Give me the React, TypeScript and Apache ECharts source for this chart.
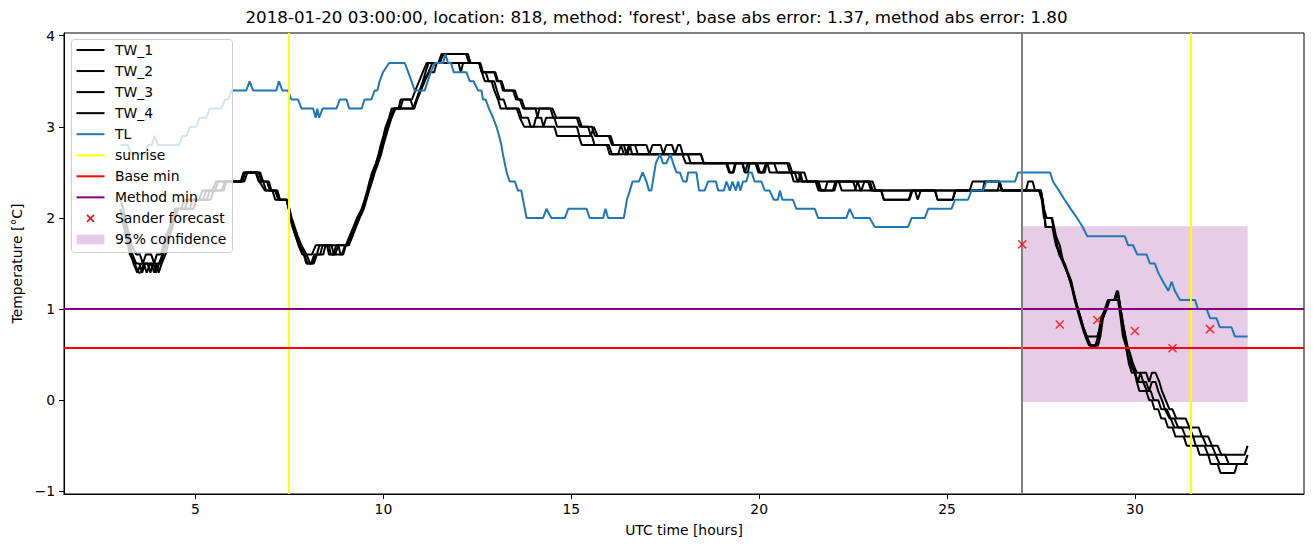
import React, { useEffect, useRef } from "react";
import * as echarts from "echarts";

const TITLE =
  "2018-01-20 03:00:00, location: 818, method: 'forest', base abs error: 1.37, method abs error: 1.80";
const X_NAME = "UTC time [hours]";
const Y_NAME = "Temperature [°C]";
const X_TICKS = [5, 10, 15, 20, 25, 30];
const Y_TICKS = [-1, 0, 1, 2, 3, 4];
const X_RANGE = [1.5, 34.5];
const Y_RANGE = [-1.03, 4.03];

// [hour, temperature] vertices
const TW_1: [number, number][] = [
  [3.0, 2.2], [3.08, 2.1], [3.18, 1.9], [3.3, 1.7], [3.42, 1.6], [3.52, 1.6], [3.6, 1.5], [3.68, 1.6], [3.82, 1.6], [3.9, 1.5], [3.97, 1.6], [4.08, 1.6], [4.2, 1.8], [4.32, 1.9], [4.45, 2.1], [4.72, 2.1], [4.8, 2.2], [5.1, 2.2], [5.18, 2.3], [5.45, 2.3], [5.55, 2.4], [6.2, 2.4], [6.28, 2.5], [6.72, 2.5], [6.8, 2.4], [6.88, 2.3], [7.05, 2.3], [7.12, 2.2], [7.42, 2.2], [7.48, 2.1], [7.54, 2.0], [7.6, 1.9], [7.67, 1.8], [7.74, 1.7], [7.84, 1.6], [8.1, 1.6], [8.2, 1.7], [8.55, 1.7], [8.6, 1.6], [8.68, 1.6], [8.74, 1.7], [9.0, 1.7], [9.1, 1.8], [9.2, 1.9], [9.3, 2.0], [9.42, 2.1], [9.5, 2.2], [9.57, 2.3], [9.63, 2.4], [9.7, 2.5], [9.8, 2.6], [9.87, 2.7], [9.93, 2.8], [10.0, 2.9], [10.06, 3.0], [10.15, 3.1], [10.22, 3.2], [10.4, 3.2], [10.46, 3.3], [10.76, 3.3], [10.85, 3.4], [10.95, 3.5], [11.05, 3.6], [11.15, 3.7], [11.46, 3.7], [11.55, 3.8], [12.2, 3.8], [12.28, 3.7], [12.55, 3.7], [12.62, 3.6], [12.95, 3.6], [13.02, 3.5], [13.12, 3.5], [13.18, 3.4], [13.45, 3.4], [13.53, 3.3], [13.63, 3.3], [13.72, 3.2], [14.5, 3.2], [14.6, 3.1], [15.2, 3.1], [15.28, 3.0], [15.55, 3.0], [15.63, 2.9], [16.0, 2.9], [16.08, 2.8], [17.0, 2.8], [17.08, 2.7], [17.16, 2.8], [17.38, 2.8], [17.45, 2.7], [17.53, 2.8], [17.68, 2.8], [17.76, 2.7], [17.84, 2.8], [17.9, 2.8], [17.97, 2.7], [18.45, 2.7], [18.53, 2.6], [19.15, 2.6], [19.22, 2.5], [19.3, 2.5], [19.36, 2.6], [20.8, 2.6], [20.88, 2.5], [21.05, 2.5], [21.13, 2.4], [23.02, 2.4], [23.1, 2.3], [25.6, 2.3], [25.68, 2.4], [26.38, 2.4], [26.46, 2.3], [27.1, 2.3], [27.16, 2.4], [27.28, 2.4], [27.34, 2.3], [27.5, 2.3], [27.57, 2.1], [27.63, 1.9], [27.8, 1.9], [27.9, 1.7], [28.0, 1.6], [28.13, 1.5], [28.22, 1.4], [28.31, 1.3], [28.36, 1.2], [28.42, 1.1], [28.49, 1.0], [28.56, 0.9], [28.63, 0.8], [28.72, 0.7], [29.0, 0.7], [29.08, 0.8], [29.15, 0.9], [29.22, 1.0], [29.3, 1.1], [29.45, 1.1], [29.53, 1.2], [29.62, 1.0], [29.7, 0.8], [29.8, 0.6], [29.88, 0.5], [29.95, 0.4], [30.05, 0.3], [30.3, 0.3], [30.38, 0.2], [30.45, 0.3], [30.55, 0.3], [30.65, 0.2], [30.72, 0.1], [30.82, 0.0], [30.92, -0.1], [31.0, -0.1], [31.1, -0.2], [31.35, -0.2], [31.45, -0.3], [31.7, -0.3], [31.78, -0.4], [31.95, -0.4], [32.05, -0.5], [32.2, -0.5], [32.3, -0.6], [32.92, -0.6], [33.0, -0.5],
];

const TW_2: [number, number][] = [
  [3.0, 2.1], [3.1, 2.0], [3.2, 1.8], [3.32, 1.6], [3.42, 1.5], [3.5, 1.5], [3.58, 1.4], [3.66, 1.5], [3.82, 1.5], [3.9, 1.4], [3.97, 1.5], [4.08, 1.5], [4.2, 1.7], [4.35, 1.9], [4.5, 2.1], [4.62, 2.1], [4.7, 2.2], [5.2, 2.2], [5.28, 2.3], [5.7, 2.3], [5.78, 2.4], [6.22, 2.4], [6.3, 2.5], [6.68, 2.5], [6.76, 2.4], [6.9, 2.4], [6.98, 2.3], [7.12, 2.3], [7.2, 2.2], [7.42, 2.2], [7.48, 2.1], [7.55, 2.0], [7.62, 1.9], [7.7, 1.8], [7.8, 1.7], [7.9, 1.6], [7.98, 1.5], [8.15, 1.5], [8.23, 1.6], [8.3, 1.7], [8.5, 1.7], [8.55, 1.6], [8.72, 1.6], [8.8, 1.7], [9.02, 1.7], [9.12, 1.8], [9.22, 1.9], [9.32, 2.0], [9.45, 2.1], [9.52, 2.2], [9.6, 2.3], [9.66, 2.4], [9.72, 2.5], [9.82, 2.6], [9.9, 2.7], [9.96, 2.8], [10.03, 2.9], [10.1, 3.0], [10.18, 3.1], [10.28, 3.2], [10.8, 3.2], [10.88, 3.3], [10.97, 3.4], [11.05, 3.5], [11.12, 3.6], [11.2, 3.7], [11.5, 3.7], [11.6, 3.8], [12.25, 3.8], [12.32, 3.7], [12.58, 3.7], [12.65, 3.6], [12.98, 3.6], [13.05, 3.5], [13.15, 3.5], [13.22, 3.4], [13.5, 3.4], [13.58, 3.3], [13.68, 3.3], [13.76, 3.2], [14.05, 3.2], [14.1, 3.1], [14.15, 3.2], [14.45, 3.2], [14.52, 3.1], [15.15, 3.1], [15.22, 3.0], [15.45, 3.0], [15.52, 2.9], [15.6, 3.0], [15.7, 2.9], [16.05, 2.9], [16.12, 2.8], [16.4, 2.8], [16.47, 2.7], [16.53, 2.8], [16.7, 2.8], [16.77, 2.7], [17.95, 2.7], [18.05, 2.6], [19.55, 2.6], [19.62, 2.5], [19.7, 2.5], [19.75, 2.6], [19.95, 2.6], [20.02, 2.5], [20.15, 2.5], [20.2, 2.6], [20.75, 2.6], [20.82, 2.5], [21.2, 2.5], [21.28, 2.4], [21.5, 2.4], [21.58, 2.3], [21.96, 2.3], [22.03, 2.4], [22.9, 2.4], [22.98, 2.3], [26.35, 2.3], [26.4, 2.4], [26.46, 2.3], [27.45, 2.3], [27.52, 2.2], [27.58, 2.0], [27.78, 2.0], [27.88, 1.8], [27.98, 1.6], [28.1, 1.5], [28.2, 1.4], [28.28, 1.3], [28.34, 1.2], [28.4, 1.1], [28.46, 1.0], [28.53, 0.9], [28.6, 0.8], [28.68, 0.7], [28.78, 0.6], [28.95, 0.6], [29.02, 0.7], [29.1, 0.9], [29.2, 1.0], [29.28, 1.1], [29.45, 1.1], [29.52, 1.2], [29.58, 1.1], [29.65, 0.9], [29.72, 0.7], [29.8, 0.5], [29.88, 0.4], [30.0, 0.3], [30.08, 0.2], [30.3, 0.2], [30.38, 0.1], [30.45, 0.2], [30.55, 0.2], [30.62, 0.1], [30.72, 0.0], [30.8, -0.1], [30.92, -0.2], [31.05, -0.2], [31.15, -0.3], [31.45, -0.3], [31.55, -0.4], [31.8, -0.4], [31.9, -0.5], [32.05, -0.5], [32.15, -0.6], [32.4, -0.6], [32.5, -0.7], [33.0, -0.7],
];

const TW_3: [number, number][] = [
  [3.0, 2.1], [3.1, 1.9], [3.22, 1.7], [3.35, 1.5], [3.45, 1.4], [3.55, 1.5], [3.62, 1.5], [3.7, 1.4], [3.8, 1.5], [3.88, 1.5], [3.95, 1.4], [4.03, 1.5], [4.12, 1.6], [4.25, 1.8], [4.4, 2.0], [4.5, 2.1], [4.85, 2.1], [4.92, 2.2], [5.3, 2.2], [5.38, 2.3], [5.52, 2.3], [5.6, 2.4], [6.25, 2.4], [6.32, 2.5], [6.62, 2.5], [6.7, 2.4], [6.85, 2.3], [7.18, 2.3], [7.25, 2.2], [7.44, 2.2], [7.5, 2.1], [7.56, 2.0], [7.64, 1.9], [7.72, 1.8], [7.82, 1.7], [7.95, 1.6], [8.05, 1.5], [8.12, 1.5], [8.2, 1.6], [8.32, 1.6], [8.38, 1.7], [8.62, 1.7], [8.68, 1.6], [8.9, 1.6], [8.98, 1.7], [9.05, 1.7], [9.15, 1.8], [9.25, 1.9], [9.35, 2.0], [9.46, 2.1], [9.53, 2.2], [9.6, 2.3], [9.68, 2.4], [9.75, 2.5], [9.84, 2.6], [9.92, 2.7], [9.98, 2.8], [10.05, 2.9], [10.12, 3.0], [10.2, 3.1], [10.3, 3.2], [10.45, 3.2], [10.52, 3.3], [10.72, 3.3], [10.8, 3.2], [10.88, 3.3], [10.97, 3.4], [11.07, 3.5], [11.2, 3.6], [11.3, 3.7], [12.0, 3.7], [12.06, 3.6], [12.12, 3.7], [12.55, 3.7], [12.62, 3.6], [12.72, 3.6], [12.8, 3.5], [12.95, 3.5], [13.02, 3.4], [13.1, 3.3], [13.2, 3.3], [13.28, 3.2], [13.6, 3.2], [13.68, 3.1], [13.85, 3.1], [13.92, 3.0], [14.0, 3.0], [14.06, 3.1], [14.2, 3.1], [14.26, 3.0], [14.33, 3.1], [14.55, 3.1], [14.62, 3.0], [15.15, 3.0], [15.22, 2.9], [15.55, 2.9], [15.62, 2.8], [15.95, 2.8], [16.02, 2.7], [16.25, 2.7], [16.32, 2.8], [16.4, 2.7], [16.5, 2.7], [16.56, 2.8], [16.62, 2.7], [18.1, 2.7], [18.18, 2.6], [19.9, 2.6], [19.98, 2.5], [20.1, 2.5], [20.18, 2.6], [20.4, 2.6], [20.48, 2.5], [20.95, 2.5], [21.02, 2.4], [21.55, 2.4], [21.62, 2.3], [21.75, 2.3], [21.82, 2.4], [22.5, 2.4], [22.58, 2.3], [22.72, 2.3], [22.8, 2.4], [22.95, 2.4], [23.02, 2.3], [23.25, 2.3], [23.32, 2.2], [24.0, 2.2], [24.08, 2.3], [24.68, 2.3], [24.75, 2.2], [25.15, 2.2], [25.22, 2.3], [25.95, 2.3], [26.0, 2.4], [26.4, 2.4], [26.47, 2.3], [27.48, 2.3], [27.55, 2.2], [27.62, 1.9], [27.82, 1.9], [27.92, 1.7], [28.02, 1.6], [28.12, 1.5], [28.2, 1.4], [28.3, 1.3], [28.36, 1.2], [28.42, 1.1], [28.48, 1.0], [28.56, 0.9], [28.62, 0.8], [28.72, 0.7], [28.82, 0.6], [29.0, 0.6], [29.06, 0.7], [29.13, 0.9], [29.23, 1.0], [29.32, 1.1], [29.55, 1.1], [29.62, 0.9], [29.68, 0.7], [29.76, 0.6], [29.84, 0.4], [29.92, 0.3], [30.0, 0.3], [30.08, 0.2], [30.15, 0.3], [30.22, 0.2], [30.32, 0.1], [30.42, 0.1], [30.5, 0.0], [30.62, 0.0], [30.7, -0.1], [30.85, -0.1], [30.95, -0.2], [31.05, -0.3], [31.25, -0.3], [31.35, -0.4], [31.55, -0.4], [31.62, -0.5], [31.85, -0.5], [31.95, -0.6], [32.15, -0.6], [32.25, -0.7], [32.92, -0.7], [33.0, -0.6],
];

const TW_4: [number, number][] = [
  [3.0, 2.1], [3.1, 1.9], [3.25, 1.6], [3.38, 1.5], [3.48, 1.4], [3.55, 1.4], [3.62, 1.5], [3.72, 1.5], [3.8, 1.4], [3.87, 1.5], [3.95, 1.5], [4.02, 1.4], [4.1, 1.5], [4.2, 1.6], [4.32, 1.8], [4.45, 2.0], [4.55, 2.1], [4.95, 2.1], [5.02, 2.2], [5.4, 2.2], [5.48, 2.3], [5.75, 2.3], [5.82, 2.4], [6.3, 2.4], [6.38, 2.5], [6.6, 2.5], [6.68, 2.4], [6.95, 2.4], [7.02, 2.3], [7.15, 2.3], [7.22, 2.2], [7.45, 2.2], [7.52, 2.0], [7.58, 1.9], [7.66, 1.8], [7.76, 1.7], [7.88, 1.6], [7.95, 1.5], [8.08, 1.5], [8.16, 1.6], [8.4, 1.6], [8.46, 1.7], [8.8, 1.7], [8.86, 1.6], [8.93, 1.6], [9.0, 1.7], [9.08, 1.7], [9.18, 1.8], [9.27, 1.9], [9.37, 2.0], [9.48, 2.1], [9.55, 2.2], [9.62, 2.3], [9.7, 2.4], [9.77, 2.5], [9.86, 2.6], [9.94, 2.7], [10.0, 2.8], [10.07, 2.9], [10.14, 3.0], [10.22, 3.1], [10.32, 3.2], [10.82, 3.2], [10.9, 3.3], [11.0, 3.4], [11.1, 3.5], [11.22, 3.6], [11.35, 3.6], [11.42, 3.7], [12.55, 3.7], [12.62, 3.6], [12.7, 3.5], [12.88, 3.5], [12.95, 3.4], [13.05, 3.3], [13.12, 3.2], [13.55, 3.2], [13.63, 3.1], [13.75, 3.0], [14.55, 3.0], [14.62, 2.9], [15.2, 2.9], [15.28, 2.8], [16.0, 2.8], [16.08, 2.7], [18.45, 2.7], [18.52, 2.6], [19.12, 2.6], [19.2, 2.5], [19.32, 2.5], [19.38, 2.6], [19.56, 2.6], [19.62, 2.5], [19.7, 2.6], [20.22, 2.6], [20.28, 2.5], [20.85, 2.5], [20.92, 2.4], [21.05, 2.4], [21.1, 2.5], [21.15, 2.4], [21.58, 2.4], [21.65, 2.3], [22.0, 2.3], [22.07, 2.4], [22.12, 2.4], [22.2, 2.3], [22.55, 2.3], [22.62, 2.4], [22.7, 2.3], [23.25, 2.3], [23.32, 2.2], [23.98, 2.2], [24.05, 2.3], [24.15, 2.3], [24.22, 2.2], [24.3, 2.3], [24.68, 2.3], [24.75, 2.2], [25.15, 2.2], [25.22, 2.3], [27.5, 2.3], [27.58, 2.1], [27.65, 2.0], [27.8, 2.0], [27.9, 1.8], [28.0, 1.7], [28.1, 1.5], [28.2, 1.4], [28.28, 1.3], [28.35, 1.2], [28.4, 1.1], [28.47, 1.0], [28.55, 0.9], [28.62, 0.8], [28.7, 0.7], [28.8, 0.6], [29.02, 0.6], [29.08, 0.7], [29.15, 0.9], [29.25, 1.0], [29.33, 1.1], [29.48, 1.1], [29.55, 1.2], [29.62, 1.0], [29.7, 0.8], [29.78, 0.6], [29.86, 0.5], [29.92, 0.4], [30.0, 0.3], [30.05, 0.2], [30.12, 0.1], [30.3, 0.1], [30.38, 0.0], [30.45, 0.0], [30.52, -0.1], [30.62, -0.1], [30.7, -0.2], [30.8, -0.2], [30.88, -0.3], [31.0, -0.3], [31.08, -0.4], [31.3, -0.4], [31.38, -0.5], [31.65, -0.5], [31.72, -0.6], [31.95, -0.6], [32.02, -0.7], [32.2, -0.7], [32.28, -0.8], [32.65, -0.8], [32.72, -0.7], [33.0, -0.7],
];

const TL: [number, number][] = [
  [3.0, 2.8], [3.2, 2.8], [3.29, 2.7], [3.67, 2.7], [3.74, 2.8], [3.84, 2.8], [3.91, 2.9], [4.0, 2.8], [4.56, 2.8], [4.65, 2.9], [4.76, 2.9], [4.85, 3.0], [5.02, 3.0], [5.11, 3.1], [5.29, 3.1], [5.38, 3.2], [5.69, 3.2], [5.78, 3.3], [5.87, 3.3], [5.96, 3.4], [6.35, 3.4], [6.44, 3.5], [6.53, 3.4], [7.15, 3.4], [7.22, 3.5], [7.31, 3.4], [7.46, 3.4], [7.55, 3.3], [7.73, 3.3], [7.82, 3.2], [8.13, 3.2], [8.2, 3.1], [8.24, 3.2], [8.29, 3.1], [8.38, 3.2], [8.75, 3.2], [8.84, 3.3], [9.02, 3.3], [9.09, 3.2], [9.42, 3.2], [9.5, 3.3], [9.68, 3.3], [9.77, 3.4], [9.84, 3.4], [9.9, 3.5], [9.99, 3.6], [10.15, 3.7], [10.57, 3.7], [10.66, 3.6], [10.75, 3.5], [10.83, 3.4], [11.1, 3.4], [11.18, 3.5], [11.26, 3.6], [11.37, 3.7], [11.59, 3.7], [11.65, 3.8], [11.72, 3.7], [11.8, 3.7], [11.87, 3.6], [12.21, 3.6], [12.3, 3.5], [12.4, 3.5], [12.52, 3.4], [12.61, 3.4], [12.65, 3.3], [12.72, 3.3], [12.81, 3.2], [12.92, 3.1], [13.01, 3.0], [13.08, 2.9], [13.14, 2.8], [13.18, 2.7], [13.23, 2.6], [13.28, 2.5], [13.36, 2.4], [13.5, 2.4], [13.58, 2.3], [13.67, 2.3], [13.81, 2.0], [14.25, 2.0], [14.34, 2.1], [14.47, 2.0], [14.83, 2.0], [14.92, 2.1], [15.41, 2.1], [15.49, 2.0], [15.85, 2.0], [15.91, 2.1], [15.98, 2.0], [16.4, 2.0], [16.48, 2.2], [16.56, 2.3], [16.63, 2.4], [16.8, 2.4], [16.9, 2.5], [17.0, 2.4], [17.07, 2.3], [17.13, 2.3], [17.25, 2.6], [17.36, 2.7], [17.44, 2.6], [17.53, 2.6], [17.64, 2.7], [17.71, 2.6], [17.8, 2.5], [17.89, 2.5], [17.98, 2.4], [18.07, 2.4], [18.11, 2.5], [18.33, 2.5], [18.4, 2.3], [18.55, 2.3], [18.64, 2.4], [18.85, 2.4], [18.91, 2.3], [19.06, 2.3], [19.13, 2.4], [19.22, 2.3], [19.29, 2.4], [19.38, 2.3], [19.44, 2.4], [19.5, 2.3], [19.57, 2.4], [19.66, 2.4], [19.73, 2.5], [19.8, 2.5], [19.88, 2.4], [20.06, 2.4], [20.15, 2.3], [20.28, 2.3], [20.39, 2.2], [20.5, 2.2], [20.55, 2.3], [20.62, 2.2], [20.9, 2.2], [20.99, 2.1], [21.48, 2.1], [21.57, 2.0], [22.32, 2.0], [22.41, 2.1], [22.52, 2.0], [22.94, 2.0], [23.08, 1.9], [23.96, 1.9], [24.06, 2.0], [24.41, 2.0], [24.5, 2.1], [25.12, 2.1], [25.21, 2.2], [25.56, 2.2], [25.65, 2.3], [25.96, 2.3], [26.05, 2.4], [26.81, 2.4], [26.89, 2.5], [27.74, 2.5], [27.82, 2.4], [27.98, 2.3], [28.13, 2.2], [28.29, 2.1], [28.46, 2.0], [28.61, 1.9], [28.73, 1.8], [29.73, 1.8], [29.82, 1.7], [29.95, 1.7], [30.06, 1.6], [30.31, 1.6], [30.4, 1.5], [30.53, 1.5], [30.62, 1.4], [30.75, 1.3], [30.89, 1.2], [30.98, 1.3], [31.06, 1.2], [31.2, 1.1], [31.6, 1.1], [31.68, 1.0], [31.91, 1.0], [32.0, 0.9], [32.17, 0.9], [32.26, 0.8], [32.57, 0.8], [32.66, 0.7], [33.0, 0.7],
];

const SUNRISE_HOURS = [7.48, 31.48];
const FORECAST_HOUR = 27;
const BASE_MIN = 0.57;
const METHOD_MIN = 1.0;
const SANDER_HOURS = [27, 28, 29, 30, 31, 32];
const SANDER_TEMPS = [1.71, 0.83, 0.88, 0.76, 0.57, 0.78];
const CONF_HOURS = [27, 33];
const CONF_TEMPS = [-0.02, 1.91];

const LEGEND_LABELS = [
  "TW_1", "TW_2", "TW_3", "TW_4", "TL", "sunrise", "Base min", "Method min", "Sander forecast", "95% confidence",
];
const LEGEND_KINDS = ["line", "line", "line", "line", "line", "line", "line", "line", "x", "patch"];
const LEGEND_COLORS = [
  "#000000", "#000000", "#000000", "#000000", "#1f77b4", "#ffff00", "#ff0000", "#800080", "#ff0000", "rgba(128,0,128,0.2)",
];

const FONT = "DejaVu Sans";

export default function App() {
  const ref = useRef<HTMLDivElement>(null);

  useEffect(() => {
    if (!ref.current) return;
    const chart = echarts.init(ref.current, null, { renderer: "svg" });

    const lineSeries = (name: string, data: [number, number][], color: string, z: number) => ({
      name,
      type: "line",
      data,
      showSymbol: false,
      symbol: "none",
      z,
      lineStyle: { color, width: 2 },
      itemStyle: { color },
      emphasis: { disabled: true },
    });

    // legend drawn as graphic, above the series
    const LZ = 100;
    const lx = 71.5;
    const ly = 39.5;
    const rowY0 = 50;
    const rowGap = 21.05;
    const legendChildren: any[] = [
      {
        type: "rect",
        z: LZ,
        shape: { x: lx, y: ly, width: 161, height: 213, r: 3 },
        style: { fill: "rgba(255,255,255,0.8)", stroke: "#cccccc", lineWidth: 1 },
      },
    ];
    LEGEND_LABELS.forEach((label, i) => {
      const cy = rowY0 + i * rowGap;
      const kind = LEGEND_KINDS[i];
      const color = LEGEND_COLORS[i];
      if (kind === "line") {
        legendChildren.push({
          type: "line",
          z: LZ + 1,
          shape: { x1: 76.5, y1: cy, x2: 104.5, y2: cy },
          style: { stroke: color, lineWidth: 2 },
        });
      } else if (kind === "x") {
        legendChildren.push({
          type: "line",
          z: LZ + 1,
          shape: { x1: 87, y1: cy - 3.5, x2: 94, y2: cy + 3.5 },
          style: { stroke: color, lineWidth: 1.5 },
        });
        legendChildren.push({
          type: "line",
          z: LZ + 1,
          shape: { x1: 87, y1: cy + 3.5, x2: 94, y2: cy - 3.5 },
          style: { stroke: color, lineWidth: 1.5 },
        });
      } else {
        legendChildren.push({
          type: "rect",
          z: LZ + 1,
          shape: { x: 76.5, y: cy - 4.8, width: 28, height: 9.7 },
          style: { fill: color },
        });
      }
      legendChildren.push({
        type: "text",
        z: LZ + 1,
        x: 115,
        y: cy,
        style: {
          text: label,
          fill: "#000000",
          font: `13.9px "${FONT}"`,
          verticalAlign: "middle",
          align: "left",
        },
      });
    });

    const option: any = {
      animation: false,
      backgroundColor: "#ffffff",
      title: {
        text: TITLE,
        left: "center",
        top: 8,
        padding: 0,
        textStyle: { fontFamily: FONT, fontSize: 16.7, fontWeight: "normal", color: "#000000" },
      },
      grid: {
        left: 64,
        right: 9,
        top: 33,
        bottom: 53,
        show: true,
        borderColor: "#000000",
        borderWidth: 1,
        backgroundColor: "transparent",
      },
      xAxis: {
        type: "value",
        min: X_RANGE[0],
        max: X_RANGE[1],
        name: X_NAME,
        nameLocation: "middle",
        nameGap: 29,
        nameTextStyle: { fontFamily: FONT, fontSize: 13.9, color: "#000000" },
        axisLine: { show: true, onZero: false, lineStyle: { color: "#000000", width: 1 } },
        axisTick: { show: true, inside: false, length: 5, customValues: X_TICKS, lineStyle: { color: "#000000", width: 1 } },
        axisLabel: { show: true, margin: 8, customValues: X_TICKS, fontFamily: FONT, fontSize: 13.9, color: "#000000" },
        splitLine: { show: false },
      },
      yAxis: {
        type: "value",
        min: Y_RANGE[0],
        max: Y_RANGE[1],
        name: Y_NAME,
        nameLocation: "middle",
        nameGap: 40,
        nameTextStyle: { fontFamily: FONT, fontSize: 13.9, color: "#000000" },
        axisLine: { show: true, onZero: false, lineStyle: { color: "#000000", width: 1 } },
        axisTick: { show: true, inside: false, length: 5, customValues: Y_TICKS, lineStyle: { color: "#000000", width: 1 } },
        axisLabel: {
          show: true,
          margin: 9,
          customValues: Y_TICKS,
          fontFamily: FONT,
          fontSize: 13.9,
          color: "#000000",
          formatter: (v: number) => (v < 0 ? "\u2212" + Math.abs(v) : String(v)),
        },
        splitLine: { show: false },
      },
      series: [
        {
          name: "95% confidence",
          type: "line",
          data: [],
          z: 1,
          silent: true,
          markArea: {
            silent: true,
            itemStyle: { color: "rgba(128,0,128,0.2)" },
            data: [[{ xAxis: CONF_HOURS[0], yAxis: CONF_TEMPS[0] }, { xAxis: CONF_HOURS[1], yAxis: CONF_TEMPS[1] }]],
          },
        },
        lineSeries("TW_1", TW_1, "#000000", 2),
        lineSeries("TW_2", TW_2, "#000000", 2),
        lineSeries("TW_3", TW_3, "#000000", 2),
        lineSeries("TW_4", TW_4, "#000000", 2),
        lineSeries("TL", TL, "#1f77b4", 3),
        {
          name: "refs",
          type: "line",
          data: [],
          z: 4,
          silent: true,
          markLine: {
            silent: true,
            symbol: ["none", "none"],
            label: { show: false },
            emphasis: { disabled: true },
            data: [
              ...SUNRISE_HOURS.map((h) => ({ xAxis: h, lineStyle: { color: "#ffff00", width: 2, type: "solid" } })),
              { yAxis: BASE_MIN, lineStyle: { color: "#ff0000", width: 2, type: "solid" } },
              { yAxis: METHOD_MIN, lineStyle: { color: "#800080", width: 2, type: "solid" } },
              { xAxis: FORECAST_HOUR, lineStyle: { color: "#808080", width: 2, type: "solid" } },
            ],
          },
        },
        {
          name: "Sander forecast",
          type: "scatter",
          z: 5,
          data: SANDER_HOURS.map((h, i) => [h, SANDER_TEMPS[i]]),
          symbol: "path://M0,0L10,10M10,0L0,10",
          symbolSize: 8,
          itemStyle: { color: "rgba(0,0,0,0)", borderColor: "#ff0000", borderWidth: 1.5 },
          emphasis: { disabled: true },
        },
      ],
      graphic: { elements: legendChildren },
    };

    chart.setOption(option);
    return () => chart.dispose();
  }, []);

  return (
    <div
      ref={ref}
      style={{ position: "absolute", left: 0, top: 0, width: 1313, height: 547, background: "#fff" }}
    />
  );
}
